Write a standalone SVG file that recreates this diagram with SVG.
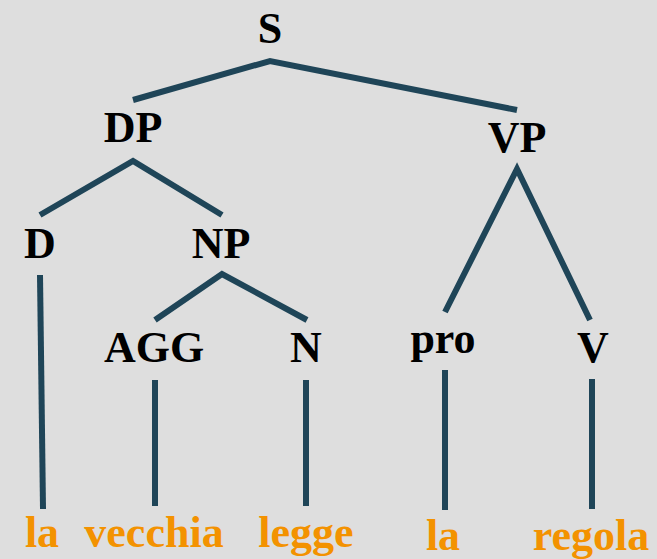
<svg xmlns="http://www.w3.org/2000/svg" width="657" height="559" viewBox="0 0 657 559">
<style>
.n{font-family:'Liberation Serif',serif;font-weight:700;font-size:44px;fill:#000;text-anchor:middle}
.w{font-family:'Liberation Serif',serif;font-weight:700;font-size:44px;fill:#f39200;text-anchor:middle}
.e{stroke:#1f4558;stroke-width:6;fill:none}
</style>
<rect width="657" height="559" fill="#dedede"/>
<g id="connectors">
<polyline class="e" points="133,100 270,61 517,110"/>
<polyline class="e" points="40,215 133,161 222,215"/>
<polyline class="e" points="155,320 222,274 307,320"/>
<polyline class="e" points="445,312 517,169 590,320"/>
<line class="e" x1="40" y1="275" x2="43" y2="509"/>
<line class="e" x1="155" y1="380" x2="155" y2="506"/>
<line class="e" x1="306" y1="380" x2="306" y2="506"/>
<line class="e" x1="445" y1="370" x2="445" y2="510"/>
<line class="e" x1="592" y1="379" x2="592" y2="509"/>
</g>
<g id="S"><text class="n" x="270" y="43">S</text></g>
<g id="DP"><text class="n" x="133" y="142">DP</text></g>
<g id="VP"><text class="n" x="517" y="152">VP</text></g>
<g id="D"><text class="n" x="40" y="258">D</text></g>
<g id="NP"><text class="n" x="221" y="258">NP</text></g>
<g id="AGG"><text class="n" x="154" y="362">AGG</text></g>
<g id="N"><text class="n" x="306" y="362">N</text></g>
<g id="pro"><text class="n" x="443" y="353">pro</text></g>
<g id="V"><text class="n" x="593" y="362">V</text></g>
<g id="w1"><text class="w" x="42" y="547">la</text></g>
<g id="w2"><text class="w" x="154" y="547">vecchia</text></g>
<g id="w3"><text class="w" x="306" y="547">legge</text></g>
<g id="w4"><text class="w" x="443" y="550">la</text></g>
<g id="w5"><text class="w" x="591" y="550">regola</text></g>
</svg>
